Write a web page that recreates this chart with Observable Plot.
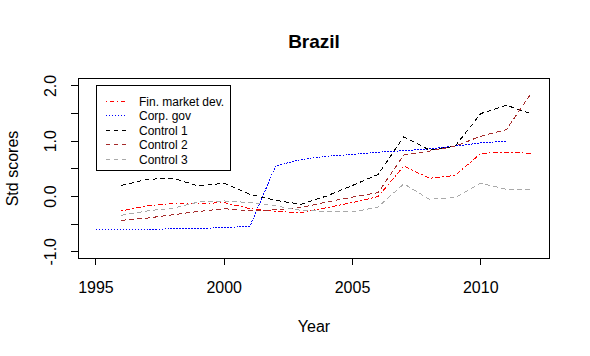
<!DOCTYPE html>
<html>
<head>
<meta charset="utf-8">
<script src="https://cdn.jsdelivr.net/npm/d3@7"></script>
<script src="https://cdn.jsdelivr.net/npm/@observablehq/plot@0.6"></script>
<style>
  body { margin: 0; background: white; }
  #wrap { position: relative; width: 590px; height: 356px; }
  #legend { position: absolute; left: 96px; top: 85px; }
</style>
</head>
<body>
<div id="wrap"></div>
<script>
const years = [1995,1996,1997,1998,1999,2000,2001,2002,2003,2004,2005,2006,2007,2008,2009,2010,2011,2012];
const finMarket = [null,-0.26,-0.17,-0.13,-0.13,-0.11,-0.22,-0.27,-0.29,-0.20,-0.11,0.00,0.55,0.33,0.38,0.78,0.80,0.78];
const corpGov   = [-0.60,-0.60,-0.60,-0.58,-0.58,-0.56,-0.54,0.55,0.67,0.73,0.76,0.80,0.83,0.86,0.91,0.97,1.00,null];
const control1  = [null,0.20,0.31,0.33,0.19,0.24,0.04,-0.07,-0.14,0.01,0.20,0.40,1.08,0.84,0.91,1.50,1.65,1.49];
const control2  = [null,-0.43,-0.39,-0.33,-0.27,-0.22,-0.26,-0.24,-0.20,-0.10,-0.01,0.07,0.75,0.82,0.91,1.09,1.21,1.89];
const control3  = [null,-0.34,-0.26,-0.21,-0.10,-0.08,-0.11,-0.17,-0.25,-0.27,-0.28,-0.19,0.23,-0.05,-0.02,0.24,0.13,0.13];

const seriesNames = ["Fin. market dev.", "Corp. gov", "Control 1", "Control 2", "Control 3"];
const seriesColors = ["#FF0000", "#0000FF", "#000000", "#A52A2A", "#A9A9A9"];
const seriesDashes = ["1,3,4,3", "1,2", "4,4", "4,4", "4,4"];
const seriesValues = [finMarket, corpGov, control1, control2, control3];

const xTicks = [1995, 2000, 2005, 2010];
const yTicks = [-1, -0.5, 0, 0.5, 1, 1.5, 2];
const yLabels = [-1, 0, 1, 2];

const font = "'Liberation Sans', Arial, sans-serif";

const lineMarks = seriesValues.map((vals, i) =>
  Plot.line(years.map((yr, j) => ({year: yr, value: vals[j]})), {
    x: "year", y: "value",
    stroke: seriesColors[i], strokeWidth: 1,
    strokeDasharray: seriesDashes[i],
    shapeRendering: "crispEdges"
  })
);

const chart = Plot.plot({
  width: 590, height: 356,
  marginLeft: 78, marginRight: 41, marginTop: 78, marginBottom: 98,
  style: {fontFamily: font, fontSize: "16px", background: "white", color: "black"},
  x: {domain: [1994.32, 2012.68]},
  y: {domain: [-1.121, 2.134]},
  marks: [
    ...lineMarks,
    Plot.frame({stroke: "black", strokeWidth: 1, shapeRendering: "crispEdges"}),
    Plot.axisX({ticks: xTicks, tickSize: 7, tickPadding: 16, tickFormat: d => String(d), label: null, fontSize: 16, shapeRendering: "crispEdges"}),
    Plot.axisY({ticks: yTicks, tickSize: 7, tickFormat: () => "", label: null, shapeRendering: "crispEdges"}),
    Plot.text(yLabels, {y: d => d, text: d => d.toFixed(1), frameAnchor: "left", dx: -28, rotate: -90, textAnchor: "middle", lineAnchor: "middle", fontSize: 16}),
    Plot.text(["Brazil"], {frameAnchor: "top", dy: -37, text: d => d, fontWeight: "bold", fontSize: 19, lineAnchor: "middle"}),
    Plot.text(["Year"], {frameAnchor: "bottom", dy: 68, text: d => d, fontSize: 16, lineAnchor: "middle"}),
    Plot.text(["Std scores"], {frameAnchor: "left", dx: -66, rotate: -90, text: d => d, fontSize: 16, lineAnchor: "middle", textAnchor: "middle"})
  ]
});

const wrap = document.getElementById("wrap");
wrap.appendChild(chart);

// Legend
const lw = 135, lh = 86;
const ns = "http://www.w3.org/2000/svg";
const leg = document.createElementNS(ns, "svg");
leg.setAttribute("id", "legend");
leg.setAttribute("width", lw);
leg.setAttribute("height", lh);
leg.style.fontFamily = font;
const box = document.createElementNS(ns, "rect");
box.setAttribute("x", 0.5); box.setAttribute("y", 0.5);
box.setAttribute("width", lw - 1); box.setAttribute("height", lh - 1);
box.setAttribute("fill", "white"); box.setAttribute("stroke", "black");
box.setAttribute("shape-rendering", "crispEdges");
leg.appendChild(box);
seriesNames.forEach((name, i) => {
  const cy = Math.round(16 + i * 14.4) + 0.5;
  const ln = document.createElementNS(ns, "line");
  ln.setAttribute("x1", 10); ln.setAttribute("x2", 31);
  ln.setAttribute("y1", cy); ln.setAttribute("y2", cy);
  ln.setAttribute("stroke", seriesColors[i]);
  ln.setAttribute("stroke-dasharray", seriesDashes[i]);
  ln.setAttribute("shape-rendering", "crispEdges");
  leg.appendChild(ln);
  const tx = document.createElementNS(ns, "text");
  tx.setAttribute("x", 43); tx.setAttribute("y", cy);
  tx.setAttribute("dy", "0.35em");
  tx.setAttribute("font-size", "12");
  tx.textContent = name;
  leg.appendChild(tx);
});
wrap.appendChild(leg);
</script>
</body>
</html>
